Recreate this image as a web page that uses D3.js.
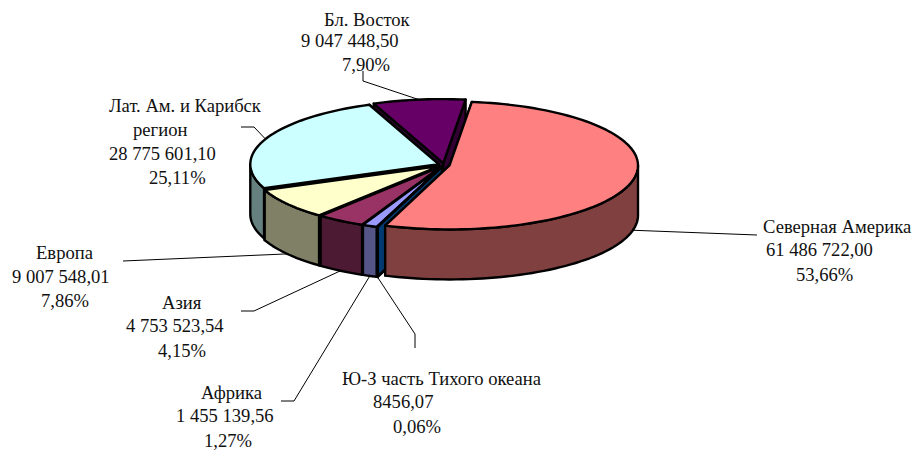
<!DOCTYPE html>
<html>
<head>
<meta charset="utf-8">
<script src="https://cdn.jsdelivr.net/npm/d3@7/dist/d3.min.js"></script>
<style>
html,body{margin:0;padding:0;background:#fff}
svg{display:block}
text{font-family:"Liberation Serif","Times New Roman",serif;font-size:18.6px;fill:#111}
</style>
</head>
<body>
<svg id="c" width="915" height="451"></svg>
<script>
// --- data ---
const regions = ["Северная Америка","Ю-З часть Тихого океана","Африка","Азия","Европа","Лат. Ам. и Карибск регион","Бл. Восток"];
const amounts = ["61 486 722,00","8456,07","1 455 139,56","4 753 523,54","9 007 548,01","28 775 601,10","9 047 448,50"];
const shares  = [53.66,0.06,1.27,4.15,7.86,25.11,7.90];
const shareLabels = ["53,66%","0,06%","1,27%","4,15%","7,86%","25,11%","7,90%"];
const topColors  = ["#FF8080","#003A70","#9999FF","#993366","#FFFFCC","#CCFFFF","#660066"];
const wallColors = ["#804040","#003A70","#555588","#4D1A33","#808066","#668080","#330033"];

// --- layout ---
const W=915,H=451, cx=444, cy=165, rx=188.5, ry=64, depth=50, explode=0.03;
const startDeg=6.8;
const svg=d3.select("#c");
const sx=d3.scaleLinear().domain([-1,1]).range([cx-rx,cx+rx]);
const sy=d3.scaleLinear().domain([-1,1]).range([cy-ry,cy+ry]); // -1 = back, +1 = front
const line=d3.line().curve(d3.curveLinear);
const pie=d3.pie().sort(null).startAngle(startDeg*Math.PI/180).endAngle((startDeg+360)*Math.PI/180);
const arcs=pie(shares).map((a,i)=>({...a,i,mid:(a.startAngle+a.endAngle)/2}));

function pt(a,ang,r=1,dz=0){
  const ox=explode*Math.sin(a.mid), oy=-explode*Math.cos(a.mid);
  return [sx(ox+r*Math.sin(ang)), sy(oy-r*Math.cos(ang))+dz];
}
function samples(a0,a1){
  const n=Math.max(1,Math.ceil((a1-a0)/(Math.PI/90)));
  return d3.range(n+1).map(k=>a0+(a1-a0)*k/n);
}
function face(g,points,fill){
  g.append("path").attr("d",line(points)+"Z").attr("fill",fill)
   .attr("stroke","#000").attr("stroke-width",2.4).attr("stroke-linejoin","round");
}
// back to front; the largest slice goes last as it overlaps the gap walls
const order=[6,5,4,3,2,1,0];
order.forEach(i=>{
  const a=arcs[i], g=svg.append("g");
  const c=pt(a,0,0), c2=pt(a,0,0,depth);
  [a.startAngle,a.endAngle].forEach(ang=>{
    face(g,[c,pt(a,ang),pt(a,ang,1,depth),c2],wallColors[i]);
  });
  // outer wall: only the front half of the ellipse
  const lo=Math.PI/2, hi=3*Math.PI/2;
  const s=Math.max(a.startAngle,lo), e=Math.min(a.endAngle,hi);
  if(e>s){
    const as=samples(s,e);
    face(g,as.map(t=>pt(a,t)).concat(as.slice().reverse().map(t=>pt(a,t,1,depth))),wallColors[i]);
  }
  face(g,[c].concat(samples(a.startAngle,a.endAngle).map(t=>pt(a,t))),topColors[i]);
});

// --- label layout (index into the arrays above, text lines with x & baseline, leader knee) ---
const labels=[
 {i:0,lines:[[regions[0],763,233],[amounts[0],766,256],[shareLabels[0],796,281]],leader:[[757,235]],bottom:true},
 {i:1,lines:[[regions[1],342,385],[amounts[1],373,408],[shareLabels[1],393,433]],leader:[[415,348],[415,334]],bottom:true},
 {i:2,lines:[[regions[2],201,399],[amounts[2],176,422],[shareLabels[2],204,447]],leader:[[281,401],[294,401]],bottom:true},
 {i:3,lines:[[regions[3],162,309],[amounts[3],126,332],[shareLabels[3],158,357]],leader:[[241,311],[254,311]],bottom:true},
 {i:4,lines:[[regions[4],36,259],[amounts[4],12,283],[shareLabels[4],41,307]],leader:[[123,261]],bottom:true},
 {i:5,lines:[["Лат. Ам. и Карибск",109,112],["регион",133,136],[amounts[5],109,160],[shareLabels[5],149,184]],leader:[[241,127],[254,127]],bottom:false},
 {i:6,lines:[[regions[6],324,26],[amounts[6],301,47],[shareLabels[6],342,71]],leader:[[363,71],[363,81]],bottom:false}
];
labels.forEach(l=>{
  const a=arcs[l.i];
  const anchor=pt(a,a.mid,1,l.bottom?depth:0);
  svg.append("path").attr("d",line(l.leader.concat([anchor]))).attr("fill","none")
     .attr("stroke","#000").attr("stroke-width",1);
  l.lines.forEach(([t,x,y])=>svg.append("text").attr("x",x).attr("y",y).text(t));
});
</script>
</body>
</html>
